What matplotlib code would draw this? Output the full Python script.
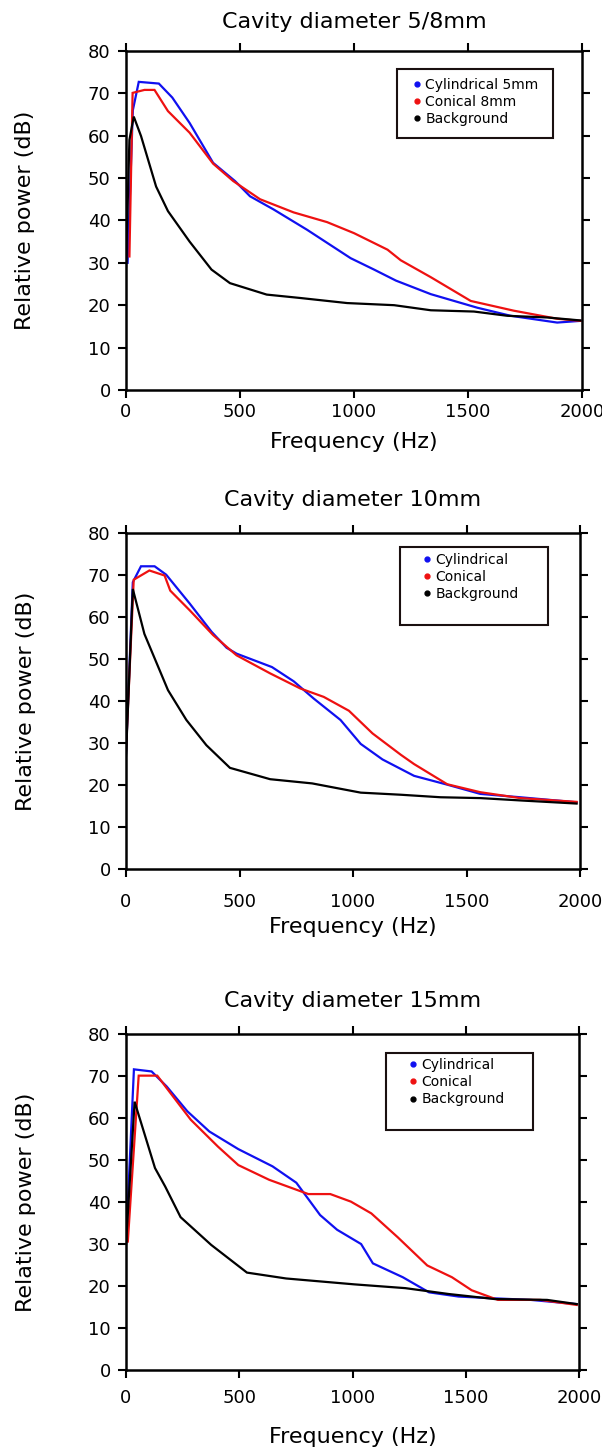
import matplotlib
matplotlib.use('Agg')
import matplotlib.pyplot as plt
from matplotlib.lines import Line2D
from matplotlib.patches import Rectangle

# Panel titles and legend labels
titles = ['Cavity diameter 5/8mm', 'Cavity diameter 10mm', 'Cavity diameter 15mm']
legend_labels = [
    ['Cylindrical 5mm', 'Conical 8mm', 'Background'],
    ['Cylindrical', 'Conical', 'Background'],
    ['Cylindrical', 'Conical', 'Background'],
]
x_ticks = [0, 500, 1000, 1500, 2000]
y_ticks = [0, 10, 20, 30, 40, 50, 60, 70, 80]

# Panel 1 (5/8 mm)
p1_cyl_f = [7, 30, 56, 144, 203, 279, 382, 478, 544, 647, 794, 985, 1088, 1184, 1337, 1541, 1687, 1891, 1993]
p1_cyl_db = [30, 66, 72.7, 72.3, 69, 63, 53.6, 49.3, 45.7, 42.6, 37.8, 31.1, 28.4, 25.8, 22.6, 19.4, 17.5, 15.9, 16.3]
p1_con_f = [15, 29, 81, 125, 184, 279, 382, 470, 588, 735, 882, 1000, 1147, 1205, 1337, 1512, 1701, 1891, 1993]
p1_con_db = [31.5, 70.1, 70.8, 70.8, 65.8, 60.7, 53.4, 49.3, 45, 41.9, 39.6, 37, 33.1, 30.6, 26.6, 21, 18.7, 16.8, 16.3]
p1_bg_f = [0, 15, 34, 66, 132, 184, 279, 375, 456, 617, 764, 970, 1176, 1337, 1526, 1672, 1847, 1993]
p1_bg_db = [29, 59, 64.5, 59.9, 48, 42.2, 35, 28.4, 25.2, 22.5, 21.7, 20.5, 20, 18.8, 18.5, 17.5, 17.1, 16.4]

# Panel 2 (10 mm)
p2_cyl_f = [0, 30, 66, 126, 177, 281, 377, 443, 487, 643, 739, 827, 945, 1034, 1130, 1269, 1415, 1561, 1737, 1985]
p2_cyl_db = [27.6, 68.3, 72.1, 72.1, 70.1, 63.2, 56.5, 52.7, 51.3, 48.1, 44.7, 40.6, 35.5, 29.8, 26.1, 22.2, 20.1, 17.9, 17.1, 15.9]
p2_con_f = [0, 34, 103, 170, 195, 281, 384, 487, 635, 768, 871, 982, 1086, 1211, 1269, 1415, 1561, 1737, 1985]
p2_con_db = [28.3, 68.9, 71.1, 69.9, 66.3, 61.6, 55.7, 50.9, 46.6, 43, 41, 37.7, 32.3, 27.2, 25, 20.2, 18.3, 16.9, 16]
p2_bg_f = [0, 30, 81, 185, 266, 354, 458, 635, 820, 1034, 1211, 1386, 1561, 1751, 1985]
p2_bg_db = [27, 66.7, 56, 42.6, 35.5, 29.5, 24.1, 21.4, 20.4, 18.2, 17.7, 17.1, 16.9, 16.3, 15.6]

# Panel 3 (15 mm)
p3_cyl_f = [0, 35, 113, 180, 271, 368, 496, 647, 752, 857, 932, 1038, 1090, 1222, 1338, 1468, 1613, 1787, 1990]
p3_cyl_db = [30, 71.6, 71.1, 67.5, 61.6, 56.8, 52.6, 48.5, 44.6, 36.9, 33.4, 30, 25.4, 22.1, 18.5, 17.5, 17.1, 16.7, 15.7]
p3_con_f = [8, 56, 138, 180, 286, 406, 496, 632, 805, 902, 993, 1083, 1200, 1330, 1439, 1526, 1642, 1830, 1990]
p3_con_db = [30.6, 70.1, 70.1, 67.1, 59.6, 53.2, 48.8, 45.3, 41.9, 41.9, 40.1, 37.3, 31.6, 24.9, 22.1, 19, 16.7, 16.7, 15.5]
p3_bg_f = [0, 38, 128, 173, 241, 376, 534, 707, 1008, 1233, 1425, 1628, 1859, 1990]
p3_bg_db = [30, 63.9, 48.1, 43.7, 36.4, 29.8, 23.2, 21.8, 20.4, 19.5, 18.1, 16.9, 16.7, 15.7]

panels = [
    [(p1_cyl_f, p1_cyl_db), (p1_con_f, p1_con_db), (p1_bg_f, p1_bg_db)],
    [(p2_cyl_f, p2_cyl_db), (p2_con_f, p2_con_db), (p2_bg_f, p2_bg_db)],
    [(p3_cyl_f, p3_cyl_db), (p3_con_f, p3_con_db), (p3_bg_f, p3_bg_db)],
]
colors = ['#1010f0', '#ee1111', 'black']

# layout (figure fractions / axes fractions)
axes_rects = [
    [0.2093, 0.7320, 0.7575, 0.2330],
    [0.2093, 0.4027, 0.7542, 0.2309],
    [0.2093, 0.0584, 0.7525, 0.2309],
]
title_y = [1.0855, 1.098, 1.098]
xlabel_y = [-0.153, -0.173, -0.199]
xtick_pad = [3.5, 11, 8]
legend_boxes = [
    (0.594, 0.743, 0.342, 0.204),
    (0.6035, 0.726, 0.326, 0.232),
    (0.574, 0.714, 0.324, 0.229),
]
legend_anchor = [(0.629, 0.920), (0.654, 0.942), (0.625, 0.928)]

fig = plt.figure(figsize=(6.02, 14.55), dpi=100)

for i in range(3):
    ax = fig.add_axes(axes_rects[i])
    for (f, db), c in zip(panels[i], colors):
        ax.plot(f, db, color=c, lw=1.6, solid_joinstyle='miter')

    ax.set_xlim(0, 2000)
    ax.set_ylim(0, 80)
    ax.set_xticks(x_ticks)
    ax.set_yticks(y_ticks)
    for s in ax.spines.values():
        s.set_linewidth(1.8)
    ax.tick_params(direction='out', length=6, width=1.5, top=True, right=True,
                   labelsize=13)
    ax.tick_params(axis='x', pad=xtick_pad[i])
    ax.tick_params(axis='y', pad=5)

    ax.set_title(titles[i], fontsize=16, y=title_y[i], pad=0, va='center')
    ax.set_xlabel('Frequency (Hz)', fontsize=16, va='center')
    ax.xaxis.set_label_coords(0.5, xlabel_y[i])
    ax.set_ylabel('Relative power (dB)', fontsize=16, va='center')
    ax.yaxis.set_label_coords(-0.221, 0.5)

    # legend box
    bx, by, bw, bh = legend_boxes[i]
    ax.add_patch(Rectangle((bx, by), bw, bh, transform=ax.transAxes,
                           facecolor='white', edgecolor='#1a1010', lw=1.5, zorder=4))
    handles = [Line2D([], [], color=c, marker='o', ls='none', ms=3.5) for c in colors]
    leg = ax.legend(handles, legend_labels[i], loc='upper left',
                    bbox_to_anchor=legend_anchor[i], frameon=False, fontsize=10,
                    handlelength=0.6, handletextpad=0.3, borderpad=0,
                    labelspacing=0.22, borderaxespad=0)
    leg.set_zorder(5)

fig.savefig('out.png', dpi=100)
